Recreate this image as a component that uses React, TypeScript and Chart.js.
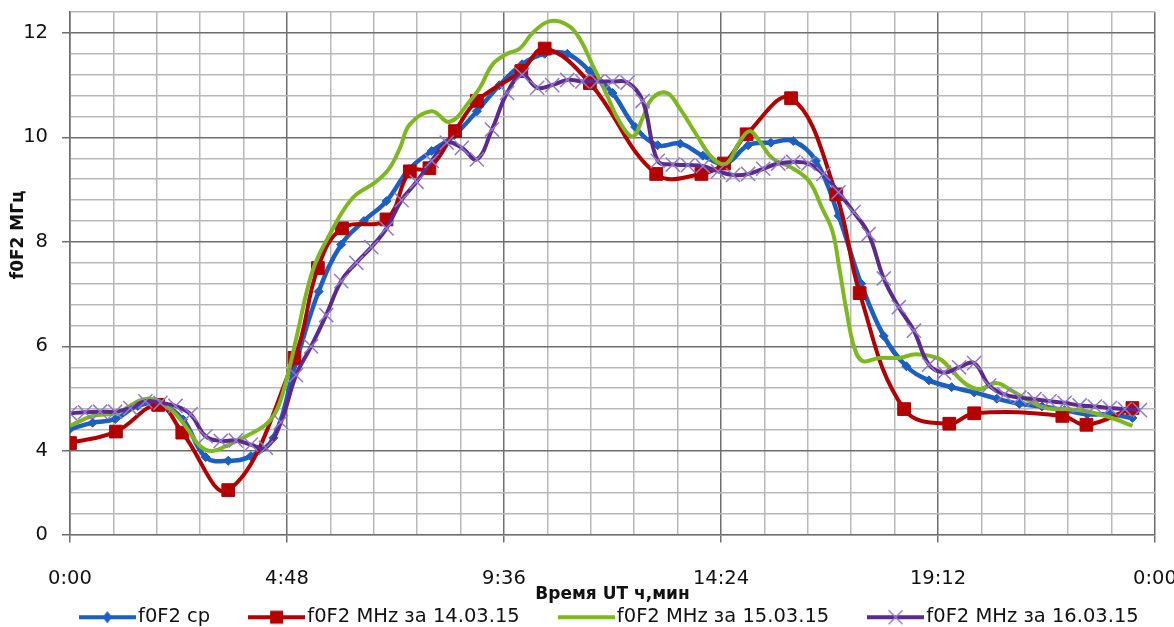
import React, { useEffect, useRef } from 'react';
import { Chart, registerables } from 'chart.js';

Chart.register(...registerables);

// ---- tick labels ----
const X_TICK_LABELS = ['0:00', '4:48', '9:36', '14:24', '19:12', '0:00'];
const Y_TICK_LABELS = ['0', '4', '6', '8', '10', '12'];

// ---- series names ----
const SERIES_NAMES = ['f0F2 ср', 'f0F2 MHz за 14.03.15', 'f0F2 MHz за 15.03.15', 'f0F2 MHz за 16.03.15'];

// ---- f0F2 ср (minutes UT, MHz) ----
const avgTimes = [0, 30, 60, 90, 120, 150, 180, 210, 240, 270, 300, 330, 360, 390, 420, 450, 480, 510, 540, 570, 600, 630, 660, 690, 720, 750, 780, 810, 840, 870, 900, 930, 960, 990, 1020, 1050, 1080, 1110, 1140, 1170, 1200, 1230, 1260, 1290, 1320, 1350, 1380, 1410];
const avgValues = [4.42, 4.54, 4.61, 4.86, 4.9, 4.6, 3.88, 3.81, 3.9, 4.25, 5.7, 7.05, 7.95, 8.4, 8.78, 9.39, 9.74, 10.04, 10.5, 11.0, 11.4, 11.6, 11.6, 11.27, 10.85, 10.2, 9.85, 9.88, 9.65, 9.5, 9.85, 9.9, 9.93, 9.55, 8.5, 7.2, 6.2, 5.62, 5.35, 5.22, 5.12, 5.0, 4.9, 4.85, 4.78, 4.7, 4.7, 4.63];

// ---- 14.03.15 ----
const d14Times = [0, 61, 117, 149, 210, 298, 329, 361, 420, 451, 477, 511, 540, 599, 630, 690, 778, 838, 868, 898, 957, 1017, 1048, 1107, 1167, 1200, 1317, 1349, 1410];
const d14Values = [4.15, 4.37, 4.88, 4.35, 3.25, 5.78, 7.5, 8.26, 8.43, 9.35, 9.41, 10.12, 10.7, 11.27, 11.7, 11.04, 9.3, 9.3, 9.5, 10.06, 10.75, 8.91, 7.02, 4.8, 4.52, 4.72, 4.67, 4.5, 4.82];

// ---- 15.03.15 ----
const d15Times = [0, 30, 62, 102, 133, 155, 172, 188, 208, 235, 261, 275, 288, 301, 322, 345, 375, 407, 424, 438, 451, 480, 504, 531, 544, 561, 580, 597, 614, 636, 659, 676, 693, 712, 729, 747, 760, 773, 792, 809, 831, 853, 871, 888, 902, 915, 932, 959, 981, 998, 1012, 1021, 1030, 1041, 1052, 1074, 1101, 1123, 1154, 1171, 1189, 1207, 1229, 1250, 1273, 1295, 1322, 1349, 1383, 1410];
const d15Values = [4.48, 4.67, 4.73, 5.0, 4.8, 4.44, 4.1, 4.0, 4.1, 4.29, 4.52, 4.8, 5.4, 6.2, 7.45, 8.15, 8.84, 9.16, 9.41, 9.8, 10.25, 10.5, 10.3, 10.7, 10.95, 11.4, 11.6, 11.7, 12.0, 12.22, 12.16, 11.9, 11.4, 10.83, 10.31, 10.02, 10.37, 10.75, 10.85, 10.56, 10.06, 9.6, 9.5, 9.9, 10.12, 9.93, 9.6, 9.41, 9.16, 8.65, 8.2, 7.5, 6.73, 5.97, 5.72, 5.78, 5.78, 5.85, 5.76, 5.53, 5.28, 5.18, 5.3, 5.15, 4.96, 4.82, 4.8, 4.76, 4.63, 4.48];

// ---- 16.03.15 ----
const d16Times = [0, 20, 40, 60, 80, 100, 120, 140, 160, 180, 200, 220, 240, 260, 280, 300, 320, 340, 360, 380, 400, 420, 440, 460, 480, 500, 520, 540, 560, 580, 600, 620, 640, 660, 680, 700, 720, 740, 760, 780, 800, 820, 840, 860, 880, 900, 920, 940, 960, 980, 1000, 1020, 1040, 1060, 1080, 1100, 1120, 1140, 1160, 1180, 1200, 1220, 1240, 1260, 1280, 1300, 1320, 1340, 1360, 1380, 1400, 1420];
const d16Values = [4.72, 4.74, 4.75, 4.75, 4.82, 4.95, 4.92, 4.86, 4.7, 4.28, 4.19, 4.2, 4.12, 4.06, 4.55, 5.45, 6.0, 6.6, 7.25, 7.6, 7.9, 8.26, 8.8, 9.15, 9.55, 9.9, 9.8, 9.58, 10.15, 10.85, 11.2, 10.95, 11.0, 11.1, 11.07, 11.07, 11.07, 11.05, 10.7, 9.55, 9.48, 9.47, 9.45, 9.35, 9.28, 9.3, 9.4, 9.5, 9.53, 9.5, 9.3, 8.95, 8.57, 8.15, 7.3, 6.75, 6.3, 5.65, 5.5, 5.6, 5.68, 5.25, 5.08, 5.02, 4.99, 4.95, 4.92, 4.87, 4.85, 4.82, 4.8, 4.78];

const BLUE = '#1C5FC2';
const RED = '#B40000';
const GREEN = '#7DB81F';
const PURPLE = '#5B2A8C';
const PURPLE_MARK = '#9278C8';
const GRID_MINOR = '#b8b8b8';
const GRID_MAJOR = '#6e6e6e';
const TEXT = '#111111';

const toPoints = (times: number[], values: number[]) => times.map((t, i) => ({ x: t, y: values[i] }));

function makeIcon(color: string, marker: string, markerColor: string) {
  const c = document.createElement('canvas');
  c.width = 57;
  c.height = 20;
  const g = c.getContext('2d')!;
  g.strokeStyle = color;
  g.lineWidth = 4;
  g.beginPath();
  g.moveTo(0, 10);
  g.lineTo(57, 10);
  g.stroke();
  const cx = 28.5;
  const cy = 10;
  if (marker === 'diamond') {
    g.fillStyle = markerColor;
    g.beginPath();
    g.moveTo(cx, cy - 6);
    g.lineTo(cx + 5, cy);
    g.lineTo(cx, cy + 6);
    g.lineTo(cx - 5, cy);
    g.closePath();
    g.fill();
  } else if (marker === 'square') {
    g.fillStyle = markerColor;
    g.fillRect(cx - 6.5, cy - 6.5, 13, 13);
  } else if (marker === 'x') {
    g.strokeStyle = markerColor;
    g.lineWidth = 1.5;
    g.beginPath();
    g.moveTo(cx - 7, cy - 7);
    g.lineTo(cx + 7, cy + 7);
    g.moveTo(cx + 7, cy - 7);
    g.lineTo(cx - 7, cy + 7);
    g.stroke();
  }
  return c;
}

export default function App() {
  const ref = useRef<HTMLCanvasElement>(null);

  useEffect(() => {
    Chart.defaults.font.family = "'DejaVu Sans', sans-serif";
    const icons = [
      makeIcon(BLUE, 'diamond', BLUE),
      makeIcon(RED, 'square', RED),
      makeIcon(GREEN, 'none', GREEN),
      makeIcon(PURPLE, 'x', PURPLE_MARK),
    ];
    const gap = '       ';
    const chart = new Chart(ref.current!, {
      type: 'line',
      data: {
        datasets: [
          {
            label: SERIES_NAMES[0],
            data: toPoints(avgTimes, avgValues),
            borderColor: BLUE,
            backgroundColor: BLUE,
            borderWidth: 4.5,
            tension: 0.4,
            pointStyle: 'rectRot',
            pointRadius: 4.5,
            pointBackgroundColor: BLUE,
            pointBorderColor: BLUE,
            pointBorderWidth: 1,
            order: 3,
          },
          {
            label: SERIES_NAMES[1],
            data: toPoints(d14Times, d14Values),
            borderColor: RED,
            backgroundColor: RED,
            borderWidth: 4,
            tension: 0.4,
            pointStyle: 'rect',
            pointRadius: 9,
            pointBackgroundColor: RED,
            pointBorderColor: RED,
            pointBorderWidth: 1,
            order: 2,
          },
          {
            label: SERIES_NAMES[2],
            data: toPoints(d15Times, d15Values),
            borderColor: GREEN,
            backgroundColor: GREEN,
            borderWidth: 4,
            tension: 0.4,
            pointRadius: 0,
            order: 1,
          },
          {
            label: SERIES_NAMES[3],
            data: toPoints(d16Times, d16Values),
            borderColor: PURPLE,
            backgroundColor: PURPLE,
            borderWidth: 4,
            tension: 0.4,
            pointStyle: 'crossRot',
            pointRadius: 10,
            pointBorderColor: PURPLE_MARK,
            pointBorderWidth: 1.5,
            order: 0,
          },
        ],
      },
      options: {
        responsive: false,
        animation: false,
        events: [],
        layout: { padding: 0 },
        scales: {
          x: {
            type: 'linear',
            min: 0,
            max: 1440,
            ticks: {
              stepSize: 57.6,
              autoSkip: false,
              maxRotation: 0,
              minRotation: 0,
              padding: 25,
              color: TEXT,
              font: { size: 19.5 },
              callback: (_v: any, i: number) => (i % 5 === 0 ? X_TICK_LABELS[i / 5] : ''),
            },
            grid: {
              color: (c: any) => (c.index % 5 === 0 ? GRID_MAJOR : GRID_MINOR),
              lineWidth: 1.5,
              tickLength: 8,
              tickColor: (c: any) => (c.index % 5 === 0 ? GRID_MAJOR : 'rgba(0,0,0,0)'),
            },
            border: { color: GRID_MAJOR, width: 1.5 },
            title: {
              display: true,
              text: 'Время UT ч,мин',
              color: TEXT,
              font: { size: 17, weight: 'bold' },
              padding: { top: 0, bottom: 1 },
            },
            afterFit: (s: any) => {
              s.height = 71;
              s.paddingRight = 19;
            },
          },
          y: {
            type: 'linear',
            min: 2.4,
            max: 12.4,
            ticks: {
              stepSize: 0.4,
              autoSkip: false,
              padding: 14,
              color: TEXT,
              font: { size: 19.5 },
              callback: (_v: any, i: number) => (i === 0 ? Y_TICK_LABELS[0] : i % 5 === 4 ? Y_TICK_LABELS[(i + 1) / 5] : ''),
            },
            grid: {
              color: (c: any) => (c.index % 5 === 4 ? GRID_MAJOR : GRID_MINOR),
              lineWidth: 1.5,
              tickLength: 8,
              tickColor: (c: any) => (c.index % 5 === 4 || c.index === 0 ? GRID_MAJOR : 'rgba(0,0,0,0)'),
            },
            border: { color: GRID_MAJOR, width: 1.5 },
            title: {
              display: true,
              text: '             f0F2 МГц',
              color: TEXT,
              font: { size: 17, weight: 'bold' },
              padding: { top: 8, bottom: 0 },
            },
            afterFit: (s: any) => {
              s.width = 70;
              s.paddingTop = 12;
            },
          },
        },
        plugins: {
          tooltip: { enabled: false },
          legend: {
            position: 'bottom',
            fullSize: false,
            labels: {
              usePointStyle: true,
              pointStyleWidth: 42,
              padding: 2,
              color: TEXT,
              font: { size: 19.5 },
              generateLabels: () =>
                SERIES_NAMES.map((name, i) => ({
                  text: i < SERIES_NAMES.length - 1 ? name + gap : name,
                  fillStyle: 'rgba(0,0,0,0)',
                  strokeStyle: 'rgba(0,0,0,0)',
                  fontColor: TEXT,
                  lineWidth: 0,
                  hidden: false,
                  pointStyle: icons[i],
                  datasetIndex: i,
                })),
            },
          },
        },
      },
    } as any);
    return () => chart.destroy();
  }, []);

  return (
    <div style={{ position: 'fixed', left: 0, top: 0, width: 1174, height: 637, background: '#fff' }}>
      <canvas ref={ref} width={1174} height={637} style={{ display: 'block', width: 1174, height: 637 }} />
    </div>
  );
}
